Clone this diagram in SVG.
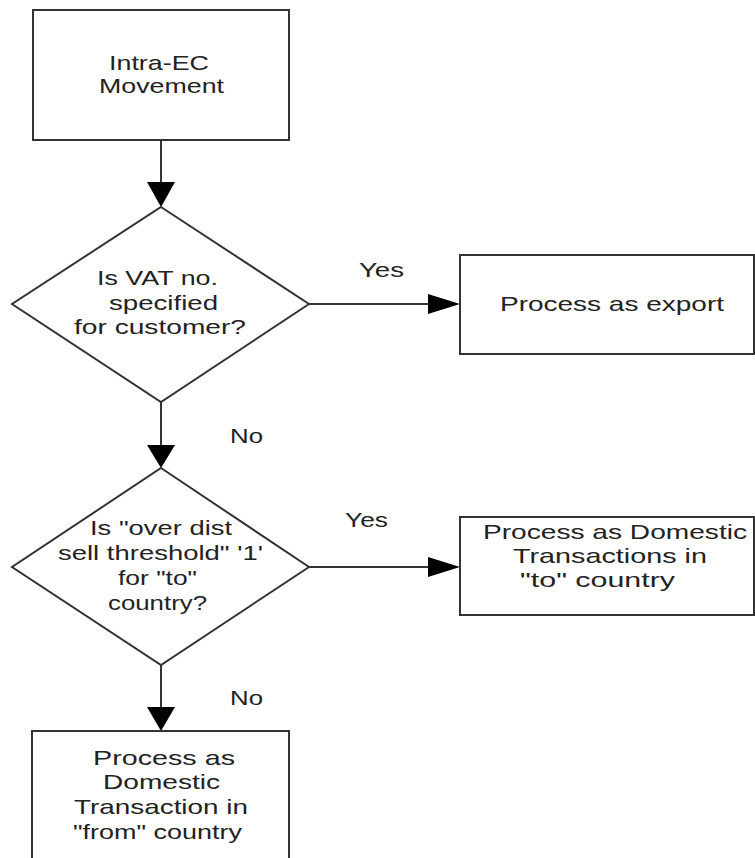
<svg xmlns="http://www.w3.org/2000/svg" width="755" height="858" viewBox="0 0 755 858">
  <style>
    .box { fill: #ffffff; stroke: #333333; stroke-width: 2; }
    .edge { fill: none; stroke: #333333; stroke-width: 2; }
    .head { fill: #000000; stroke: none; }
    text { font-family: "Liberation Sans", Arial, sans-serif; font-size: 21px; fill: #222222; }
  </style>
  <rect width="755" height="858" fill="#ffffff"/>

  <g id="connectors">
    <line class="edge" x1="161" y1="140" x2="161" y2="184"/>
    <polygon class="head" points="147,182 175,182 161,207"/>
    <line class="edge" x1="309" y1="304" x2="430" y2="304"/>
    <polygon class="head" points="428,294 428,314 460,304"/>
    <line class="edge" x1="161" y1="402" x2="161" y2="447"/>
    <polygon class="head" points="147,445 175,445 161,468"/>
    <line class="edge" x1="309" y1="567" x2="430" y2="567"/>
    <polygon class="head" points="428,557 428,577 460,567"/>
    <line class="edge" x1="161" y1="665" x2="161" y2="709"/>
    <polygon class="head" points="147,707 175,707 161,731"/>
    <text x="359" y="277" textLength="45" lengthAdjust="spacingAndGlyphs">Yes</text>
    <text x="230" y="443" textLength="33" lengthAdjust="spacingAndGlyphs">No</text>
    <text x="345" y="527" textLength="43" lengthAdjust="spacingAndGlyphs">Yes</text>
    <text x="230" y="705" textLength="33" lengthAdjust="spacingAndGlyphs">No</text>
  </g>

  <g id="start">
    <rect class="box" x="33" y="10" width="256" height="130"/>
    <text x="109" y="70" textLength="100" lengthAdjust="spacingAndGlyphs">Intra-EC</text>
    <text x="99" y="93" textLength="125" lengthAdjust="spacingAndGlyphs">Movement</text>
  </g>

  <g id="decision-vat">
    <polygon class="box" points="161,207 309,304 161,402 12,304"/>
    <text x="97" y="285" textLength="121" lengthAdjust="spacingAndGlyphs">Is VAT no.</text>
    <text x="109" y="310" textLength="109" lengthAdjust="spacingAndGlyphs">specified</text>
    <text x="74" y="334" textLength="172" lengthAdjust="spacingAndGlyphs">for customer?</text>
  </g>

  <g id="export">
    <rect class="box" x="460" y="255" width="294" height="99"/>
    <text x="500" y="311" textLength="224" lengthAdjust="spacingAndGlyphs">Process as export</text>
  </g>

  <g id="decision-threshold">
    <polygon class="box" points="161,468 309,567 161,665 12,567"/>
    <text x="90" y="535" textLength="142" lengthAdjust="spacingAndGlyphs">Is "over dist</text>
    <text x="58" y="560" textLength="205" lengthAdjust="spacingAndGlyphs">sell threshold" '1'</text>
    <text x="118" y="585" textLength="79" lengthAdjust="spacingAndGlyphs">for "to"</text>
    <text x="108" y="610" textLength="99" lengthAdjust="spacingAndGlyphs">country?</text>
  </g>

  <g id="domestic-to">
    <rect class="box" x="460" y="517" width="294" height="98"/>
    <text x="483" y="539" textLength="264" lengthAdjust="spacingAndGlyphs">Process as Domestic</text>
    <text x="513" y="563" textLength="194" lengthAdjust="spacingAndGlyphs">Transactions in</text>
    <text x="520" y="587" textLength="155" lengthAdjust="spacingAndGlyphs">"to" country</text>
  </g>

  <g id="domestic-from">
    <rect class="box" x="32" y="731" width="257" height="140"/>
    <text x="93" y="765" textLength="142" lengthAdjust="spacingAndGlyphs">Process as</text>
    <text x="103" y="789" textLength="117" lengthAdjust="spacingAndGlyphs">Domestic</text>
    <text x="74" y="814" textLength="174" lengthAdjust="spacingAndGlyphs">Transaction in</text>
    <text x="73" y="839" textLength="169" lengthAdjust="spacingAndGlyphs">"from" country</text>
  </g>
</svg>
